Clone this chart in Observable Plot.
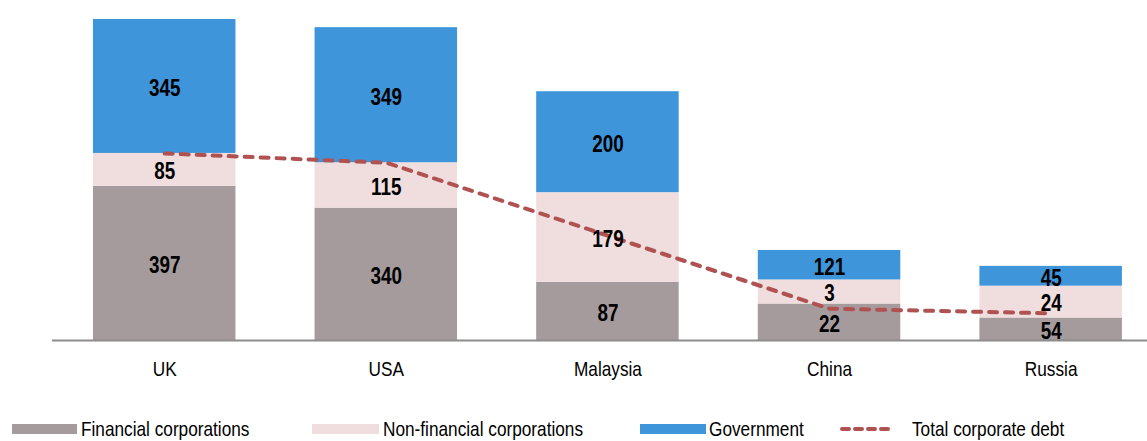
<!DOCTYPE html>
<html>
<head>
<meta charset="utf-8">
<script src="https://cdn.jsdelivr.net/npm/d3@7"></script>
<script src="https://cdn.jsdelivr.net/npm/@observablehq/plot@0.6"></script>
<style>
  html, body { margin: 0; padding: 0; background: #fff; overflow: hidden; }
  body { width: 1147px; height: 441px; position: relative; font-family: "Liberation Sans", Arial, sans-serif; }
  #chart { position: absolute; left: 0; top: 0; }
  .legend { position: absolute; top: 0; left: 0; width: 1147px; height: 441px; pointer-events: none; }
  .sw { position: absolute; top: 424px; height: 10px; }
  .lt { position: absolute; top: 418px; font-size: 21px; line-height: 21px; color: #000; white-space: nowrap; transform: scaleX(0.82); transform-origin: 0 50%; }
</style>
</head>
<body>
<div id="chart"></div>
<div class="legend" id="legend"></div>
<script>
// Categories
const categories = ["UK", "USA", "Malaysia", "China", "Russia"];
// Bar segment heights as drawn in the picture
const financial = [397, 341, 150, 94, 58];
const nonFinancial = [85, 117, 231, 62, 82];
const government = [345, 348, 260, 76, 51];
// Printed data labels
const financialLabels = [397, 340, 87, 22, 54];
const nonFinancialLabels = [85, 115, 179, 3, 24];
const governmentLabels = [345, 349, 200, 121, 45];
// Total corporate debt line
const totalCorporateDebt = [482, 458, 270, 82, 70];

const seriesNames = ["Financial corporations", "Non-financial corporations", "Government"];
const lineName = "Total corporate debt";
const seriesColors = ["#a69b9c", "#f0dede", "#3e95da"];
const lineColor = "#b05252";

const rows = [];
categories.forEach((c, i) => {
  rows.push({cat: c, series: seriesNames[0], value: financial[i], label: financialLabels[i]});
  rows.push({cat: c, series: seriesNames[1], value: nonFinancial[i], label: nonFinancialLabels[i]});
  rows.push({cat: c, series: seriesNames[2], value: government[i], label: governmentLabels[i]});
});
const lineData = categories.map((c, i) => ({cat: c, value: totalCorporateDebt[i]}));

const font = '"Liberation Sans", Arial, sans-serif';

const chart = Plot.plot({
  width: 1147,
  height: 395,
  marginLeft: 52,
  marginRight: 0,
  marginTop: 0,
  marginBottom: 55,
  style: {fontFamily: font, background: "#fff", overflow: "visible"},
  x: {domain: categories, paddingInner: 0.357, paddingOuter: 0.149, align: 0.62, round: false, label: null},
  y: {domain: [0, 876], axis: null},
  color: {domain: seriesNames, range: seriesColors},
  marks: [
    Plot.barY(rows, Plot.stackY({x: "cat", y: "value", fill: "series", order: null})),
    Plot.ruleY([0], {stroke: "#8c8c8c", strokeWidth: 2}),
    Plot.lineY(lineData, {x: "cat", y: "value", stroke: lineColor, strokeWidth: 4, strokeDasharray: "8,8", strokeLinecap: "round"}),
    Plot.text(rows, Plot.stackY({x: "cat", y: "value", text: "label", order: null, fontSize: 23, fontWeight: "bold", fill: "#000", dy: 2})),
    Plot.axisX({tickSize: 0, tickPadding: 21, fontSize: 21, label: null, fill: "#000"})
  ]
});
document.getElementById("chart").appendChild(chart);

// Narrow the typeface (Arial Narrow look) while keeping real text
chart.querySelectorAll("text").forEach(t => {
  const len = t.getComputedTextLength();
  if (len > 0) {
    t.setAttribute("textLength", (len * 0.82).toFixed(2));
    t.setAttribute("lengthAdjust", "spacingAndGlyphs");
  }
});

// Legend
const legend = document.getElementById("legend");
const legendItems = [
  {name: seriesNames[0], color: seriesColors[0], sx: 12, sw: 65, tx: 81},
  {name: seriesNames[1], color: seriesColors[1], sx: 312, sw: 67, tx: 383},
  {name: seriesNames[2], color: seriesColors[2], sx: 640, sw: 66, tx: 709},
  {name: lineName, color: lineColor, sx: 840, sw: 56, tx: 912, dashed: true}
];
legendItems.forEach(it => {
  if (it.dashed) {
    const s = document.createElementNS("http://www.w3.org/2000/svg", "svg");
    s.setAttribute("width", it.sw + 4);
    s.setAttribute("height", 10);
    s.style.position = "absolute";
    s.style.left = (it.sx - 2) + "px";
    s.style.top = "424px";
    s.innerHTML = `<line x1="4" y1="5" x2="${it.sw - 1}" y2="5" stroke="${it.color}" stroke-width="4" stroke-dasharray="7,6" stroke-linecap="round"/>`;
    legend.appendChild(s);
  } else {
    const sw = document.createElement("div");
    sw.className = "sw";
    sw.style.left = it.sx + "px";
    sw.style.width = it.sw + "px";
    sw.style.background = it.color;
    legend.appendChild(sw);
  }
  const t = document.createElement("span");
  t.className = "lt";
  t.style.left = it.tx + "px";
  t.textContent = it.name;
  legend.appendChild(t);
});
</script>
</body>
</html>
